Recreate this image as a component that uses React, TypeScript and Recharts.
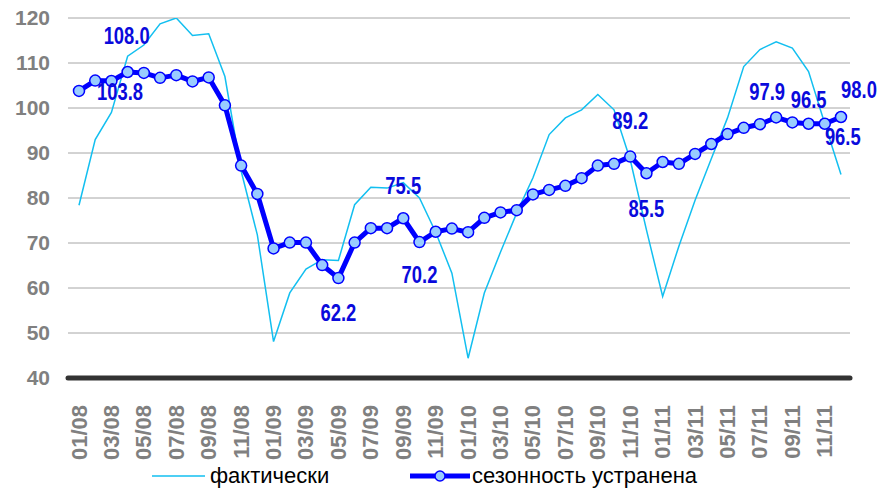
import React from "react";
import {
  LineChart,
  Line,
  XAxis,
  YAxis,
  CartesianGrid,
  Legend,
  LabelList,
} from "recharts";

// months 01/08 .. 12/11
const months = [
  "01/08", "02/08", "03/08", "04/08", "05/08", "06/08", "07/08", "08/08", "09/08", "10/08", "11/08", "12/08",
  "01/09", "02/09", "03/09", "04/09", "05/09", "06/09", "07/09", "08/09", "09/09", "10/09", "11/09", "12/09",
  "01/10", "02/10", "03/10", "04/10", "05/10", "06/10", "07/10", "08/10", "09/10", "10/10", "11/10", "12/10",
  "01/11", "02/11", "03/11", "04/11", "05/11", "06/11", "07/11", "08/11", "09/11", "10/11", "11/11", "12/11",
];

const actual = [
  78.4, 93.0, 99.0, 111.5, 114.0, 118.7, 120.0, 116.1, 116.5, 107.0, 86.0, 71.8,
  48.1, 58.9, 64.2, 66.3, 66.1, 78.5, 82.4, 82.2, 83.4, 80.0, 72.4, 63.3,
  44.4, 58.9, 68.0, 76.7, 84.5, 94.1, 97.8, 99.6, 103.0, 99.6, 88.5, 72.9,
  58.1, 69.3, 79.5, 88.7, 97.8, 109.2, 113.0, 114.7, 113.3, 108.1, 96.5, 85.2,
];

const adjusted = [
  103.8, 106.1, 106.0, 108.0, 107.8, 106.7, 107.3, 105.9, 106.8, 100.6, 87.2, 80.9,
  68.8, 70.1, 70.1, 65.1, 62.2, 70.1, 73.3, 73.3, 75.5, 70.2, 72.5, 73.2,
  72.4, 75.6, 76.8, 77.3, 80.8, 81.8, 82.7, 84.4, 87.2, 87.6, 89.2, 85.5,
  88.0, 87.6, 89.8, 92.0, 94.2, 95.6, 96.4, 97.9, 96.8, 96.5, 96.5, 98.0,
];

const yTicks = [40, 50, 60, 70, 80, 90, 100, 110, 120];

const seriesNames = ["фактически", "сезонность устранена"];

// which points get a value label, and where the label sits relative to the point
const labelOffsets: Record<number, [number, number]> = {
  0: [41, 1],
  3: [-1, -36],
  16: [0, 35],
  20: [0, -33],
  21: [0, 33],
  34: [0, -36],
  35: [0, 35],
  43: [-9, -26],
  45: [0, -24],
  46: [18, 13],
  47: [18, -27],
};

const data = months.map((m, i) => ({
  month: m,
  actual: actual[i],
  adjusted: adjusted[i],
}));

const CYAN = "#12bff0";
const BLUE = "#0000ff";

const XTick = ({ x, y, payload }: any) => (
  <text
    x={x}
    y={y}
    transform={`rotate(-90 ${x} ${y})`}
    textAnchor="end"
    dominantBaseline="central"
    fill="#808080"
    fontSize={22}
    fontWeight="bold"
    fontFamily="'Liberation Sans', Arial, sans-serif"
  >
    {payload.value}
  </text>
);

// labels in the original are a condensed bold face, so squeeze them a bit
const ValueLabel = (props: any) => {
  const { x, y, value, index } = props;
  const off = labelOffsets[index];
  if (!off) return null;
  const cx = x + off[0];
  const cy = y + off[1];
  return (
    <text
      x={0}
      y={0}
      transform={`translate(${cx} ${cy}) scale(0.8 1)`}
      textAnchor="middle"
      dominantBaseline="central"
      fill="#0a0adc"
      fontSize={23}
      fontWeight="bold"
      fontFamily="'Liberation Sans', Arial, sans-serif"
    >
      {Number(value).toFixed(1)}
    </text>
  );
};

const renderLegend = () => (
  <div
    style={{
      position: "relative",
      width: 879,
      height: 30,
      fontFamily: "'Liberation Sans', Arial, sans-serif",
      fontSize: 22,
      color: "#000",
    }}
  >
    <svg width={60} height={30} style={{ position: "absolute", left: 150, top: 0 }}>
      <line x1={2} y1={15} x2={55} y2={15} stroke={CYAN} strokeWidth={1.5} />
    </svg>
    <span style={{ position: "absolute", left: 210, top: 0, lineHeight: "30px" }}>
      {seriesNames[0]}
    </span>
    <svg width={64} height={30} style={{ position: "absolute", left: 408, top: 0 }}>
      <line x1={2} y1={15} x2={62} y2={15} stroke={BLUE} strokeWidth={5} />
      <circle cx={32} cy={15} r={5} fill="#99ccff" stroke={BLUE} strokeWidth={1.5} />
    </svg>
    <span style={{ position: "absolute", left: 472, top: 0, lineHeight: "30px" }}>
      {seriesNames[1]}
    </span>
  </div>
);

export default function App() {
  return (
    <div style={{ position: "absolute", left: 0, top: 0, width: 879, height: 489, background: "#fff" }}>
      <LineChart
        width={879}
        height={489}
        data={data}
        margin={{ top: 18, right: 29, bottom: 11, left: 8 }}
      >
        <CartesianGrid vertical={false} stroke="#a6a6a6" strokeWidth={1} />
        <XAxis
          dataKey="month"
          interval={1}
          height={70}
          tick={<XTick />}
          tickLine={false}
          tickSize={6}
          tickMargin={21}
          axisLine={{ stroke: "#333333", strokeWidth: 5, strokeLinecap: "round" }}
          padding={{ left: 11, right: 9 }}
        />
        <YAxis
          width={60}
          domain={[40, 120]}
          ticks={yTicks}
          allowDataOverflow
          axisLine={false}
          tickLine={false}
          tickMargin={12}
          tick={{
            fill: "#808080",
            fontSize: 21,
            fontWeight: "bold",
            fontFamily: "'Liberation Sans', Arial, sans-serif",
          }}
        />
        <Legend
          verticalAlign="bottom"
          height={30}
          content={renderLegend}
          wrapperStyle={{ top: 461, left: 0, width: 879, height: 30 }}
        />
        <Line
          dataKey="actual"
          name={seriesNames[0]}
          stroke={CYAN}
          strokeWidth={1.5}
          dot={false}
          activeDot={false}
          isAnimationActive={false}
        />
        <Line
          dataKey="adjusted"
          name={seriesNames[1]}
          stroke={BLUE}
          strokeWidth={5}
          strokeLinejoin="round"
          dot={{ r: 5.5, fill: "#99ccff", stroke: BLUE, strokeWidth: 1.5 }}
          activeDot={false}
          isAnimationActive={false}
        >
          <LabelList dataKey="adjusted" content={<ValueLabel />} />
        </Line>
      </LineChart>
    </div>
  );
}
